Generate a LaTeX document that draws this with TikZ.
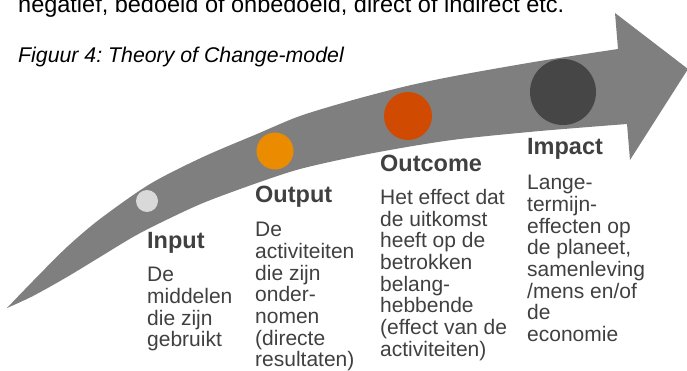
\documentclass[tikz,border=0pt]{standalone}
\usepackage{fontspec}
\setmainfont{Liberation Sans}
\usetikzlibrary{positioning}
\frenchspacing

\definecolor{arrowgray}{HTML}{7F7F7F}
\definecolor{txtgray}{HTML}{404040}
\definecolor{dotlight}{HTML}{D9D9D9}
\definecolor{dotorange}{HTML}{EB8C00}
\definecolor{dotred}{HTML}{D04A02}
\definecolor{dotdark}{HTML}{464646}

\begin{document}
\begin{tikzpicture}[x=1pt, y=-1pt]
        \tikzstyle{dot}=[circle, inner sep=0pt, draw=none];
        \tikzstyle{title}=[anchor=base west, inner sep=0pt, text=txtgray, font=\fontsize{23.5}{24}\selectfont\bfseries];
        \tikzstyle{body}=[anchor=north west, inner sep=0pt, align=left, text=txtgray, font=\fontsize{21}{21.7}\selectfont];

        \useasboundingbox (0, 0) rectangle (687, 371);
        \clip (0, 0) rectangle (687, 371);

        % text above the picture
        \node[anchor=base west, inner sep=0pt, font=\fontsize{23.5}{24}\selectfont] (intro) at (18, 12.7) {negatief, bedoeld of onbedoeld, direct of indirect etc.};
        \node[anchor=base west, inner sep=0pt, font=\fontsize{21.3}{22}\selectfont\itshape] (caption) at (18, 63) {Figuur 4: Theory of Change-model};

        % the curved arrow
        \fill[arrowgray] plot[smooth] coordinates {(7, 308) (33, 281) (67, 247) (100, 219) (150, 184) (203, 157) (257, 134) (300, 116) (353, 100) (407, 86) (460, 75) (540, 61) (618, 49)}
            -- (615, 13) -- (688, 69) -- (630, 160)
            -- plot[smooth] coordinates {(627, 124) (540, 131) (460, 139) (407, 147) (353, 157) (300, 169) (257, 183) (203, 203) (160, 223) (133, 237) (100, 257) (67, 277) (33, 296) (7, 308)}
            -- cycle;

        \node[fill=dotlight] (inputdot) at (147, 201) [dot, minimum size=22pt] {};
        \node[fill=dotorange] (outputdot) at (275, 151) [dot, minimum size=37pt] {};
        \node[fill=dotred] (outcomedot) at (408, 116) [dot, minimum size=48pt] {};
        \node[fill=dotdark] (impactdot) at (563, 92) [dot, minimum size=66pt] {};

        \node (input) at (147, 248) [title] {Input};
        \node (output) at (255, 203) [title] {Output};
        \node (outcome) at (380, 172) [title] {Outcome};
        \node (impact) at (527, 155) [title] {Impact};

        \node[below=19pt of input.base west, body] (inputtxt) {De\\middelen\\die zijn\\gebruikt};
        \node[below=19pt of output.base west, body] (outputtxt) {De\\activiteiten\\die zijn\\onder-\\nomen\\(directe\\resultaten)};
        \node[below=17pt of outcome.base west, body] (outcometxt) {Het effect dat\\de uitkomst\\heeft op de\\betrokken\\belang-\\hebbende\\(effect van de\\activiteiten)};
        \node[below=20pt of impact.base west, body] (impacttxt) {Lange-\\termijn-\\effecten op\\de planeet,\\samenleving\\/mens en/of\\de\\economie};
    \end{tikzpicture}
\end{document}
